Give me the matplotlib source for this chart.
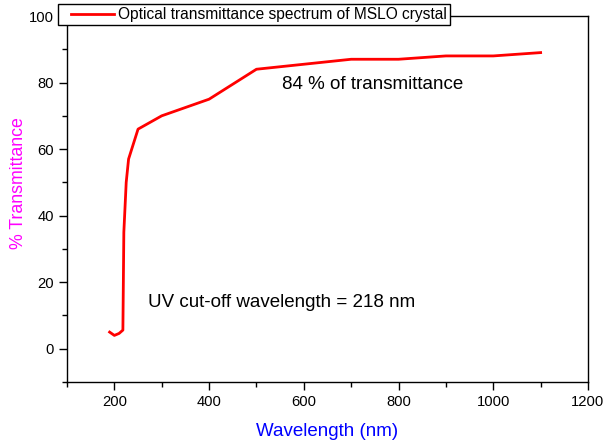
import matplotlib.pyplot as plt
from matplotlib.lines import Line2D
from matplotlib.legend_handler import HandlerLine2D
from matplotlib.ticker import MultipleLocator

plt.rcParams['font.family'] = ['Liberation Sans', 'DejaVu Sans']

# Transmittance spectrum of the MSLO crystal
wavelength = [190, 200, 210, 218, 220, 225, 230, 250, 300, 350, 400, 500,
              600, 700, 800, 900, 1000, 1100]
transmittance = [5, 4, 4.6, 5.6, 35, 50, 57, 66, 70, 72.5, 75, 84,
                 85.5, 87, 87, 88, 88, 89]

fig = plt.figure(figsize=(6.04, 4.41), dpi=100)
ax = fig.add_axes([67 / 604, 1 - 382 / 441, 521 / 604, 366 / 441])

ax.plot(wavelength, transmittance, color='red', linewidth=2,
        label='Optical transmittance spectrum of MSLO crystal')

ax.set_xlim(100, 1200)
ax.set_ylim(-10, 100)
ax.xaxis.set_major_locator(MultipleLocator(200))
ax.xaxis.set_minor_locator(MultipleLocator(100))
ax.yaxis.set_minor_locator(MultipleLocator(10))
ax.set_yticks([0, 20, 40, 60, 80, 100])
ax.tick_params(which='both', direction='out', labelsize=10.6, width=1, pad=3.5)
ax.tick_params(which='major', length=5.8)
ax.tick_params(which='minor', length=3.6)
for s in ax.spines.values():
    s.set_linewidth(1)

ax.set_xlabel('Wavelength (nm)', color='blue', fontsize=13.5, labelpad=10)
ax.set_ylabel('% Transmittance', color='magenta', fontsize=12.8)
ax.yaxis.set_label_coords(-0.077, 0.544)

ax.text(553, 79.4, '84 % of transmittance', fontsize=13.5, va='center')
ax.text(272, 14, 'UV cut-off wavelength = 218 nm', fontsize=13.5, va='center')

# legend sits over the top spine, line handle inset from the frame
leg = ax.legend(loc='upper left', bbox_to_anchor=(-0.017, 1.032), fontsize=11.2,
                frameon=True, fancybox=False, edgecolor='black', framealpha=1,
                borderpad=0.18, handlelength=3.4, handletextpad=0.3,
                borderaxespad=0,
                handler_map={Line2D: HandlerLine2D(xpad=0.65)})
leg.get_frame().set_linewidth(1)

fig.savefig('out.png', dpi=100)
